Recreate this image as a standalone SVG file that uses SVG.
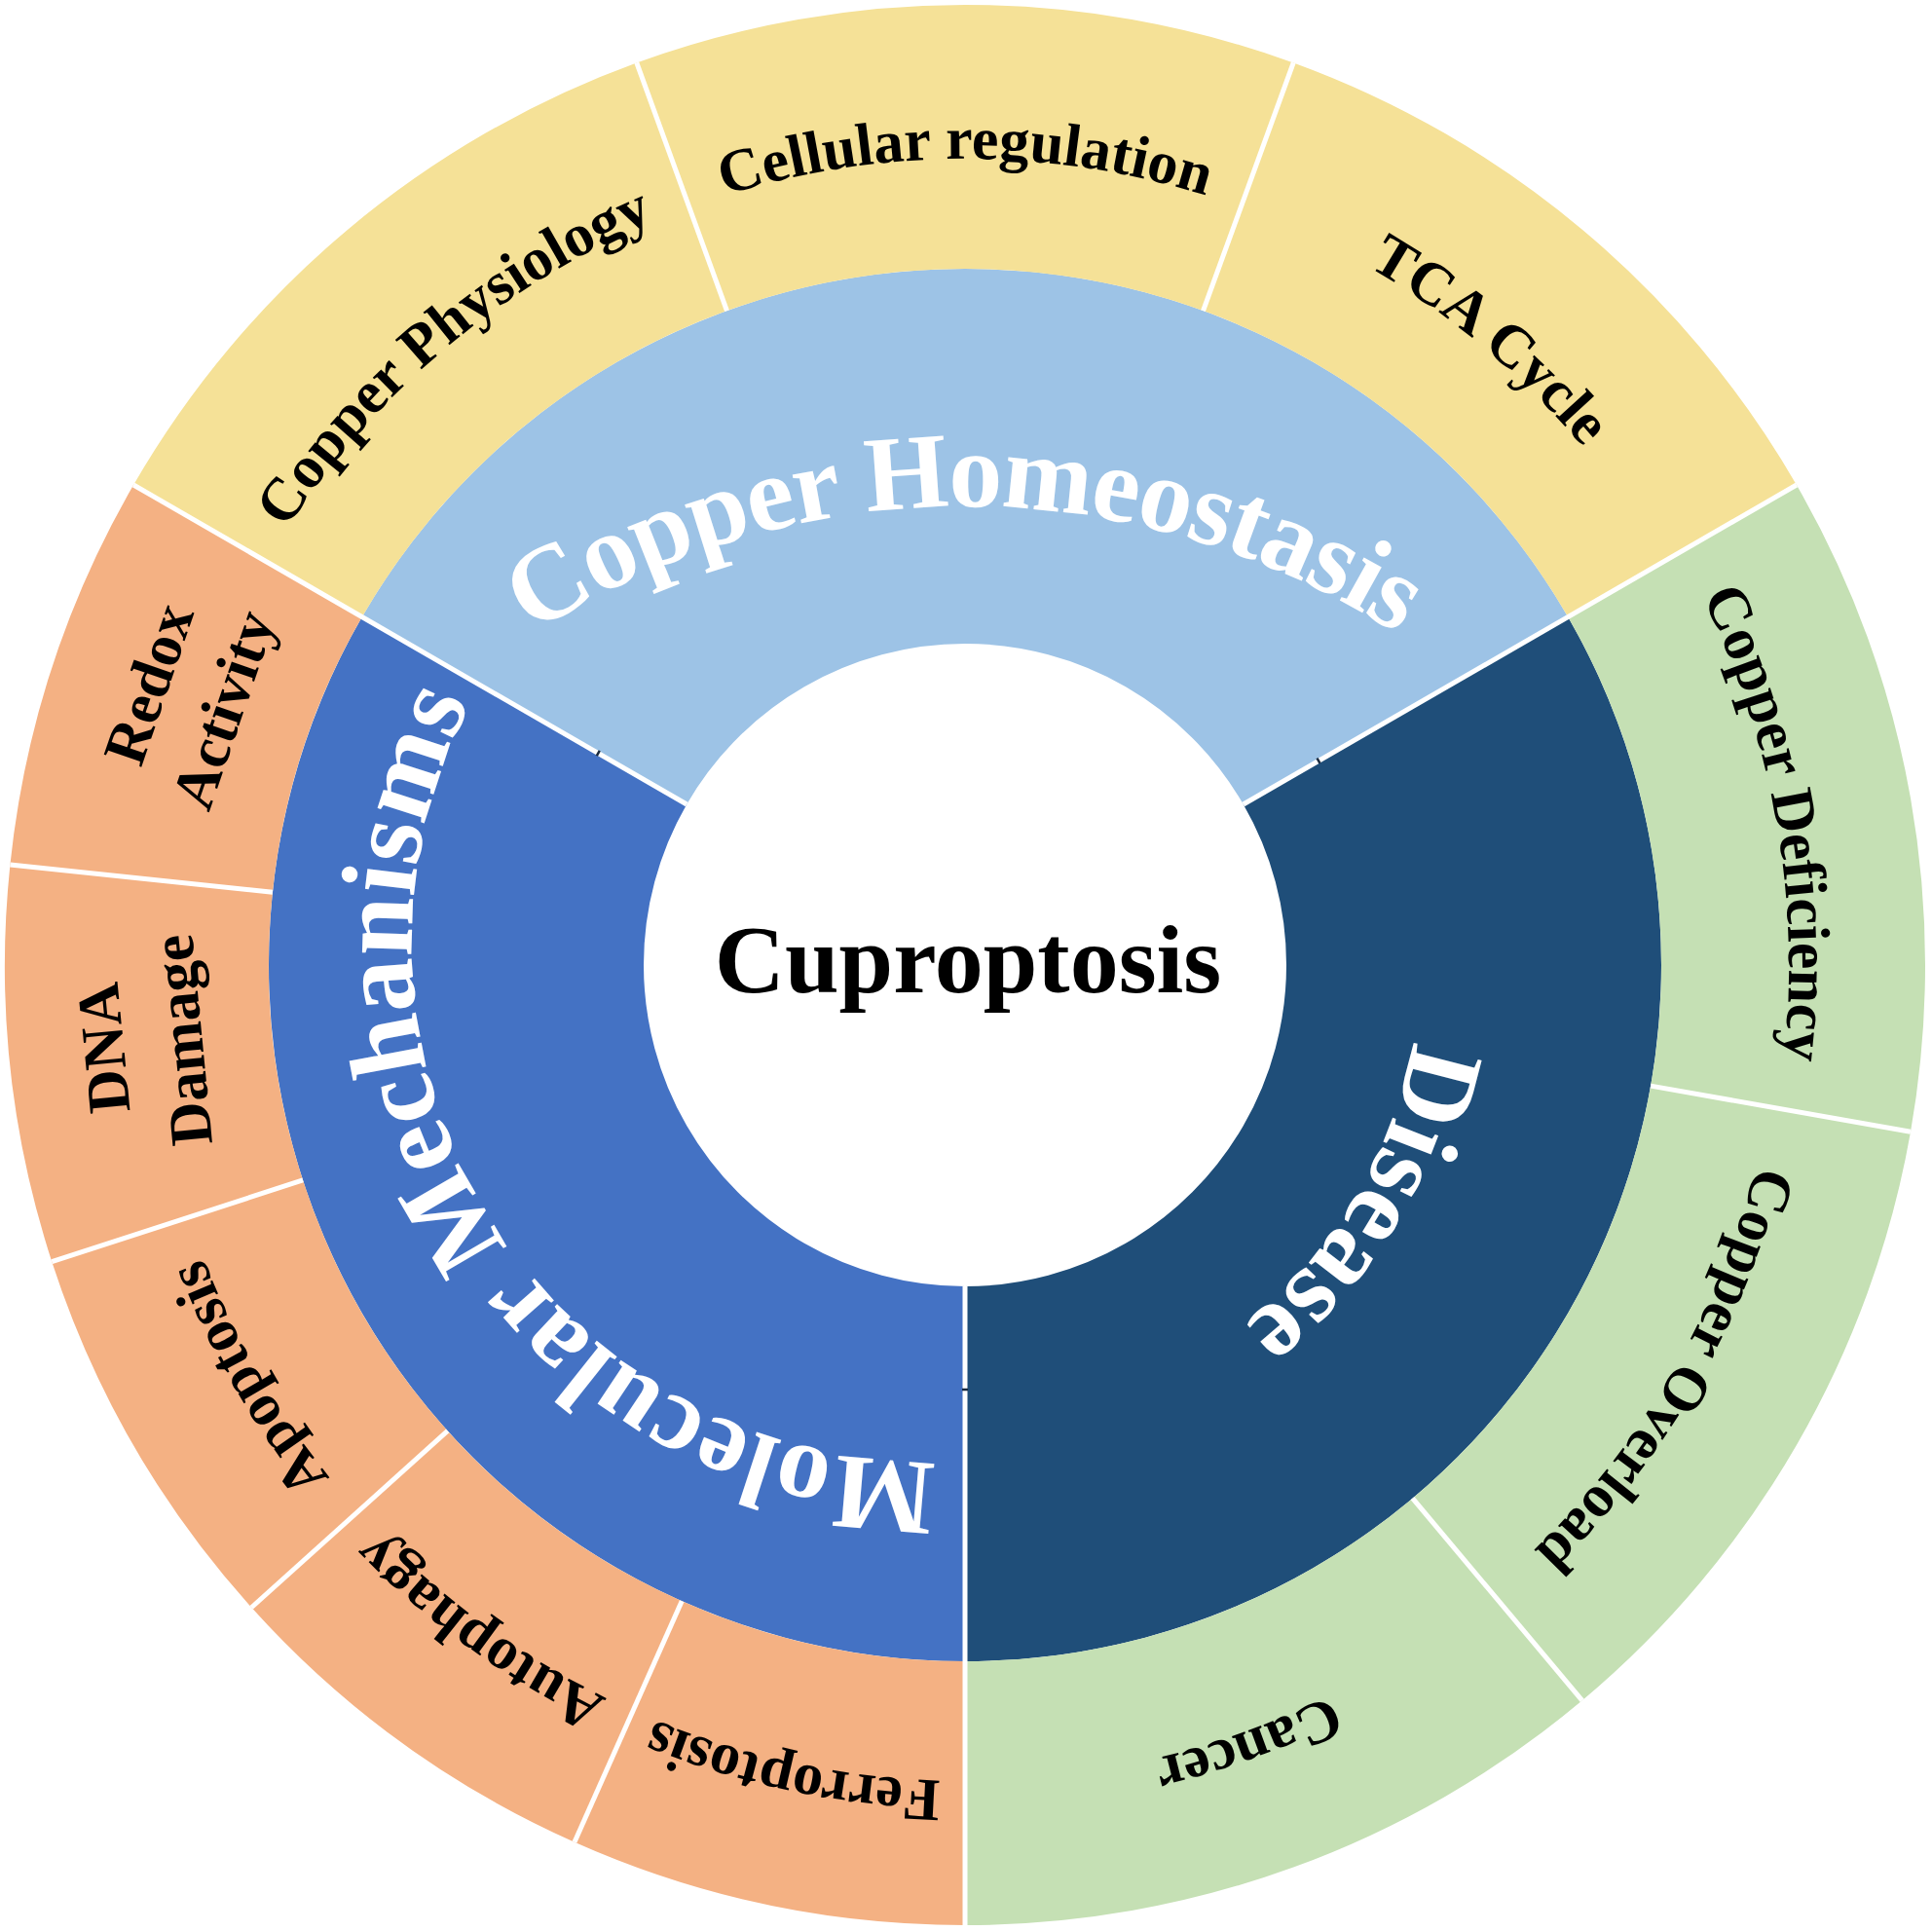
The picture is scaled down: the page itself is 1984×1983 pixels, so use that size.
<svg xmlns="http://www.w3.org/2000/svg" xmlns:xlink="http://www.w3.org/1999/xlink" width="1984" height="1983" viewBox="0 0 1984 1983">
<style>
.t{font-family:"Liberation Serif","Times New Roman",serif;font-weight:bold}
.big{font-size:110px;fill:#FFFFFF}
.lbl{font-size:62px;fill:#000000}
.center{font-size:100px;fill:#000000}
.sep{stroke:#FFFFFF;stroke-width:5;fill:none;stroke-linecap:butt}
.tick{stroke:#1B2B3F;stroke-width:2.5}
.yel{fill:#F5E197}
.grn{fill:#C5E0B4}
.org{fill:#F4B183}
</style>
<defs>
<path id="r828" d="M 163 991 A 828 828 0 1 1 1819 991 A 828 828 0 1 1 163 991"/>
<path id="r838" d="M 153 991 A 838 838 0 1 1 1829 991 A 838 838 0 1 1 153 991"/>
<path id="r846" d="M 145 991 A 846 846 0 1 1 1837 991 A 846 846 0 1 1 145 991"/>
<path id="pHome" d="M 283.5 928.5 A 817 817 0 0 1 1698.5 928.5"/>
<path id="pMol" d="M 1244 1415.7 A 532 532 0 0 1 666 522.3"/>
<path id="pDis" d="M 1231 591.5 A 466 466 0 0 1 751 1390.5"/>
</defs>
<rect width="1984" height="1983" fill="#FFFFFF"/>

<g id="copper-homeostasis">
<path fill="#9DC3E6" d="M 371.79 633.5 A 715 715 0 0 1 1610.21 633.5 L 1276.79 826 A 330 330 0 0 0 705.21 826 Z"/>
<text class="t big" text-anchor="middle"><textPath xlink:href="#pHome" href="#pHome" startOffset="50%" textLength="940" lengthAdjust="spacing">Copper Homeostasis</textPath></text>
</g>
<g id="disease">
<path fill="#1F4E79" d="M 1610.21 633.5 A 715 715 0 0 1 991 1706 L 991 1321 A 330 330 0 0 0 1276.79 826 Z"/>
<text class="t big" text-anchor="middle"><textPath xlink:href="#pDis" href="#pDis" startOffset="50%">Disease</textPath></text>
</g>
<g id="molecular-mechanisms">
<path fill="#4472C4" d="M 991 1706 A 715 715 0 0 1 371.79 633.5 L 705.21 826 A 330 330 0 0 0 991 1321 Z"/>
<text class="t big" text-anchor="middle"><textPath xlink:href="#pMol" href="#pMol" startOffset="848" textLength="1098" lengthAdjust="spacing">Molecular Mechanisms</textPath></text>
</g>

<g id="copper-physiology">
<path class="yel" d="M 137.10 498 A 986 986 0 0 1 653.77 64.46 L 746.46 319.12 A 715 715 0 0 0 371.79 633.5 Z"/>
<text class="t lbl" text-anchor="middle"><textPath xlink:href="#r828" href="#r828" startOffset="722.6">Copper Physiology</textPath></text>
</g>
<g id="cellular-regulation">
<path class="yel" d="M 653.77 64.46 A 986 986 0 0 1 1328.23 64.46 L 1235.54 319.12 A 715 715 0 0 0 746.46 319.12 Z"/>
<text class="t lbl" text-anchor="middle"><textPath xlink:href="#r828" href="#r828" startOffset="1300.6">Cellular regulation</textPath></text>
</g>
<g id="tca-cycle">
<path class="yel" d="M 1328.23 64.46 A 986 986 0 0 1 1844.90 498 L 1610.21 633.5 A 715 715 0 0 0 1235.54 319.12 Z"/>
<text class="t lbl" text-anchor="middle"><textPath xlink:href="#r828" href="#r828" startOffset="1878.7">TCA Cycle</textPath></text>
</g>
<g id="copper-deficiency">
<path class="grn" d="M 1844.90 498 A 986 986 0 0 1 1962.02 1162.22 L 1695.14 1115.16 A 715 715 0 0 0 1610.21 633.5 Z"/>
<text class="t lbl" text-anchor="middle"><textPath xlink:href="#r846" href="#r846" startOffset="2510.1">Copper Deficiency</textPath></text>
</g>
<g id="copper-overload">
<path class="grn" d="M 1962.02 1162.22 A 986 986 0 0 1 1624.79 1746.32 L 1450.59 1538.72 A 715 715 0 0 0 1695.14 1115.16 Z"/>
<text class="t lbl" text-anchor="middle"><textPath xlink:href="#r838" href="#r838" startOffset="3071.4">Copper Overload</textPath></text>
</g>
<g id="cancer">
<path class="grn" d="M 1624.79 1746.32 A 986 986 0 0 1 991 1977 L 991 1706 A 715 715 0 0 0 1450.59 1538.72 Z"/>
<text class="t lbl" text-anchor="middle"><textPath xlink:href="#r838" href="#r838" startOffset="3656.5">Cancer</textPath></text>
</g>
<g id="ferroptosis">
<path class="org" d="M 991 1977 A 986 986 0 0 1 589.96 1891.75 L 700.18 1644.18 A 715 715 0 0 0 991 1706 Z"/>
<text class="t lbl" text-anchor="middle"><textPath xlink:href="#r838" href="#r838" startOffset="4124.5">Ferroptosis</textPath></text>
</g>
<g id="autophagy">
<path class="org" d="M 589.96 1891.75 A 986 986 0 0 1 258.26 1650.76 L 459.65 1469.43 A 715 715 0 0 0 700.18 1644.18 Z"/>
<text class="t lbl" text-anchor="middle"><textPath xlink:href="#r838" href="#r838" startOffset="4475.5">Autophagy</textPath></text>
</g>
<g id="apoptosis">
<path class="org" d="M 258.26 1650.76 A 986 986 0 0 1 53.26 1295.69 L 310.99 1211.95 A 715 715 0 0 0 459.65 1469.43 Z"/>
<text class="t lbl" text-anchor="middle"><textPath xlink:href="#r838" href="#r838" startOffset="4826.5">Apoptosis</textPath></text>
</g>
<g id="dna-damage">
<path class="org" d="M 53.26 1295.69 A 986 986 0 0 1 10.40 887.94 L 279.92 916.26 A 715 715 0 0 0 310.99 1211.95 Z"/>
<text class="t lbl" text-anchor="middle" transform="translate(127,1074.2) rotate(-95.5)">DNA</text>
<text class="t lbl" text-anchor="middle" transform="translate(207.6,1066.4) rotate(-95.5)">Damage</text>
</g>
<g id="redox-activity">
<path class="org" d="M 10.40 887.94 A 986 986 0 0 1 137.10 498 L 371.79 633.5 A 715 715 0 0 0 279.92 916.26 Z"/>
<text class="t lbl" text-anchor="middle" transform="translate(172.2,709.1) rotate(-71)">Redox</text>
<text class="t lbl" text-anchor="middle" transform="translate(248.8,735.4) rotate(-71)">Activity</text>
</g>

<g id="separators">
<line class="sep" x1="991" y1="1321" x2="991" y2="1980"/>
<line class="sep" x1="705.21" y1="826" x2="137.10" y2="498"/>
<line class="sep" x1="1276.79" y1="826" x2="1844.90" y2="498"/>
<line class="sep" x1="746.46" y1="319.12" x2="653.77" y2="64.46"/>
<line class="sep" x1="1235.54" y1="319.12" x2="1328.23" y2="64.46"/>
<line class="sep" x1="1695.14" y1="1115.16" x2="1962.02" y2="1162.22"/>
<line class="sep" x1="1450.59" y1="1538.72" x2="1624.79" y2="1746.32"/>
<line class="sep" x1="700.18" y1="1644.18" x2="589.96" y2="1891.75"/>
<line class="sep" x1="459.65" y1="1469.43" x2="258.26" y2="1650.76"/>
<line class="sep" x1="310.99" y1="1211.95" x2="53.26" y2="1295.69"/>
<line class="sep" x1="279.92" y1="916.26" x2="10.40" y2="887.94"/>
<line class="tick" x1="988" y1="1427" x2="994" y2="1427"/>
<line class="tick" x1="612.8" y1="776.1" x2="615.8" y2="770.9"/>
<line class="tick" x1="1352.5" y1="778.6" x2="1355.5" y2="783.8"/>
</g>

<g id="cuproptosis">
<text class="t center" x="994" y="1019" text-anchor="middle">Cuproptosis</text>
</g>
</svg>
